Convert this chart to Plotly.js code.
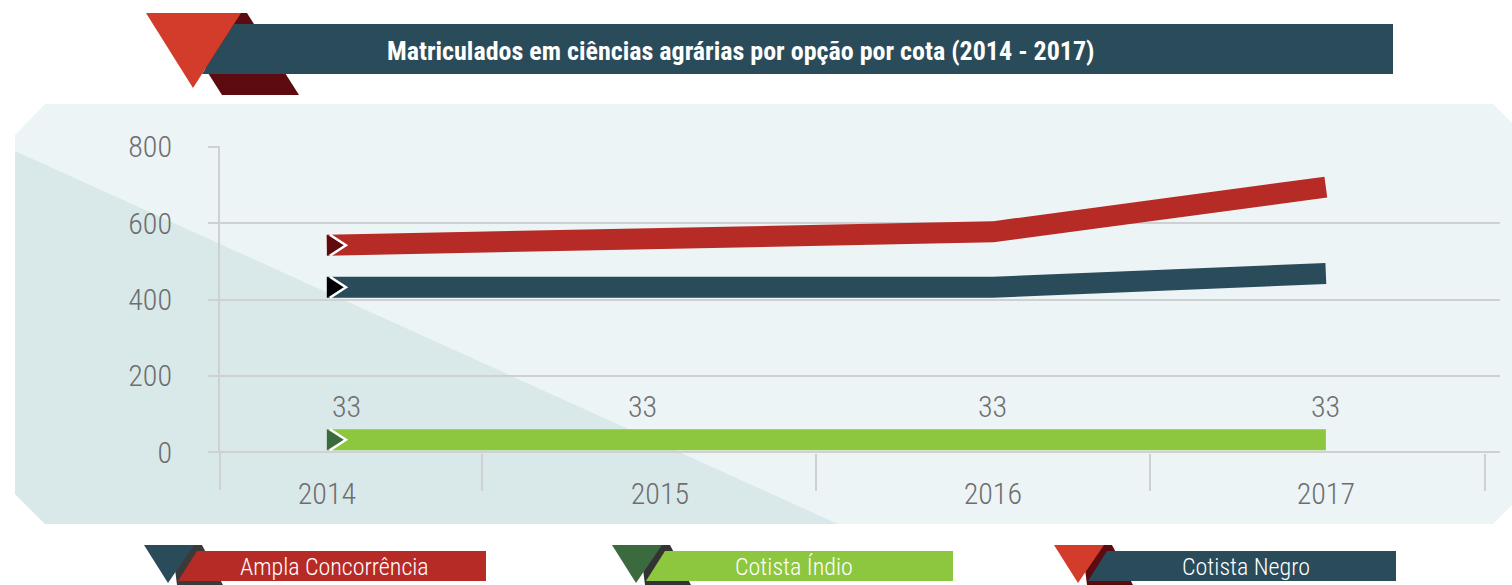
<!DOCTYPE html>
<html>
<head>
<meta charset="utf-8">
<script src="https://cdn.plot.ly/plotly-3.0.1.min.js"></script>
<style>html,body{margin:0;padding:0;background:#fff;}#chart{width:1512px;height:585px;}</style>
</head>
<body>
<div id="chart"></div>
<script>
// ---- data ----
const years = [2014, 2015, 2016, 2017];
const xTickLabels = ['2014', '2015', '2016', '2017'];
const yTickValues = [0, 200, 400, 600, 800];
const seriesNames = ['Ampla Concorrência', 'Cotista Índio', 'Cotista Negro'];
const amplaConcorrencia = [542, 560, 577, 694];
const cotistaIndio = [33, 33, 33, 33];
const cotistaNegro = [432, 432, 432, 468];
const categoryBoundaries = [2014.465, 2015.468, 2016.471, 2017.477];
const chartTitle = 'Matriculados em ciências agrárias por opção por cota (2014 - 2017)';

// ---- layout geometry ----
const FIG_W = 1512, FIG_H = 585;
const L = 220, R = 12, T = 146, B = 132;
const PW = FIG_W - L - R, PH = FIG_H - T - B;
const FONT = '"Roboto Condensed", Roboto, sans-serif';
const GRAY = '#6d6e70';
const GRID = '#cfd0d2';

function px(x) { return (x - L) / PW; }
function py(y) { return (FIG_H - B - y) / PH; }
function poly(pts) { return 'M' + pts.map(p => px(p[0]).toFixed(5) + ',' + py(p[1]).toFixed(5)).join(' L') + ' Z'; }
function pshape(pts, color, layer) {
  return { type: 'path', xref: 'paper', yref: 'paper', path: poly(pts), fillcolor: color, line: { width: 0 }, layer: layer || 'above' };
}

const colors = { ampla: '#b72b27', indio: '#8dc63f', negro: '#2a4b5a' };
const arrowColors = { ampla: '#5e0a0f', indio: '#3c6a3f', negro: '#000000' };

const series = [
  { name: seriesNames[0], y: amplaConcorrencia, color: colors.ampla, arrow: arrowColors.ampla },
  { name: seriesNames[2], y: cotistaNegro, color: colors.negro, arrow: arrowColors.negro },
  { name: seriesNames[1], y: cotistaIndio, color: colors.indio, arrow: arrowColors.indio }
];

const traces = series.map(s => ({
  type: 'scatter', mode: 'lines', x: years, y: s.y, name: s.name,
  line: { color: s.color, width: 21 }, hoverinfo: 'x+y+name', showlegend: false
}));

const shapes = [];
// panel background
shapes.push(pshape([[15,135],[45,104],[1493,104],[1512,123],[1512,505],[1493,524],[45,524],[15,494]], '#edf4f6', 'below'));
// diagonal shade
shapes.push(pshape([[15,151],[838,524],[45,524],[15,494]], '#d9e9e9', 'below'));
// y axis line extension below the zero line
shapes.push({ type: 'line', xref: 'paper', yref: 'paper', x0: 0, x1: 0, y0: 0, y1: py(490), line: { color: GRID, width: 2 }, layer: 'below' });

// start arrows anchored on the first data point of each series
series.forEach(s => {
  shapes.push({ type: 'path', xref: 'x', yref: 'y', xsizemode: 'pixel', ysizemode: 'pixel',
    xanchor: years[0], yanchor: s.y[0], path: 'M0,-10.5 L18,0 L0,10.5 Z',
    fillcolor: s.arrow, line: { width: 0 } });
  shapes.push({ type: 'path', xref: 'x', yref: 'y', xsizemode: 'pixel', ysizemode: 'pixel',
    xanchor: years[0], yanchor: s.y[0], path: 'M3,-10.5 L19,0 L3,10.5',
    fillcolor: 'rgba(0,0,0,0)', line: { color: '#ffffff', width: 2.5 } });
});

// title banner
shapes.push(pshape([[170,13],[247,13],[299,95],[222,95]], '#5c0b10'));
shapes.push(pshape([[234,24],[1393,24],[1393,74],[202,74]], '#2a4b5a'));
shapes.push(pshape([[146,13],[241,13],[193,88]], '#d33c2a'));

// legend banners
const legendDefs = [
  { name: seriesNames[0], bar: colors.ampla, tri: '#2a4b5a', back: '#3a3a3a', x: 144, x1: 486, tx: 334 },
  { name: seriesNames[1], bar: colors.indio, tri: '#3c6a3f', back: '#333333', x: 612, x1: 953, tx: 794 },
  { name: seriesNames[2], bar: colors.negro, tri: '#d33c2a', back: '#5c0b10', x: 1054, x1: 1396, tx: 1246 }
];
const annotations = [];
legendDefs.forEach(d => {
  const x = d.x;
  shapes.push(pshape([[x+28,545],[x+58,545],[x+79,585],[x+33,585]], d.back));
  shapes.push(pshape([[x+53,551],[d.x1,551],[d.x1,581],[x+34,581]], d.bar));
  shapes.push(pshape([[x,545],[x+50,545],[x+24,583]], d.tri));
  annotations.push({ xref: 'paper', yref: 'paper', x: px(d.tx), y: py(567),
    text: d.name, showarrow: false, xanchor: 'center', yanchor: 'middle',
    font: { family: FONT, size: 24, color: '#ffffff', weight: 300 } });
});

annotations.push({ xref: 'paper', yref: 'paper', x: px(741), y: py(51), text: chartTitle,
  showarrow: false, xanchor: 'center', yanchor: 'middle',
  font: { family: FONT, size: 26, color: '#ffffff', weight: 700 } });

// value labels for Cotista Índio
const labelShift = [20, -17, 0, 0];
years.forEach((yr, i) => {
  annotations.push({ x: yr, y: cotistaIndio[i], xref: 'x', yref: 'y', text: String(cotistaIndio[i]),
    showarrow: false, yshift: 33, xshift: labelShift[i], xanchor: 'center', yanchor: 'middle',
    font: { family: FONT, size: 30, color: GRAY, weight: 300 } });
});

const layout = {
  width: FIG_W, height: FIG_H,
  margin: { l: L, r: R, t: T, b: B, pad: 0 },
  paper_bgcolor: '#ffffff', plot_bgcolor: 'rgba(0,0,0,0)',
  font: { family: FONT, color: GRAY },
  showlegend: false,
  xaxis: {
    range: [2013.679, 2017.523], tickvals: years, ticktext: xTickLabels,
    showgrid: false, zeroline: false, showline: false, ticks: '',
    ticklabelstandoff: 20,
    tickfont: { family: FONT, size: 30, color: GRAY, weight: 300 },
    minor: { tickmode: 'array', tickvals: categoryBoundaries, ticks: 'outside', ticklen: 37, tickwidth: 2, tickcolor: GRID, showgrid: false }
  },
  yaxis: {
    range: [-1.5, 801.5], tickvals: yTickValues, ticktext: yTickValues.map(String),
    showgrid: true, gridcolor: GRID, gridwidth: 2,
    zeroline: true, zerolinecolor: GRID, zerolinewidth: 2,
    showline: true, linecolor: GRID, linewidth: 2,
    ticks: 'outside', ticklen: 10, tickwidth: 2, tickcolor: GRID,
    ticklabelstandoff: 30,
    tickfont: { family: FONT, size: 30, color: GRAY, weight: 300 }
  },
  shapes: shapes,
  annotations: annotations
};

Plotly.newPlot('chart', traces, layout, { displayModeBar: false, staticPlot: true });
</script>
</body>
</html>
